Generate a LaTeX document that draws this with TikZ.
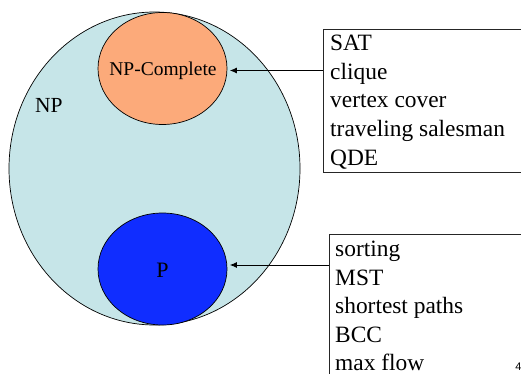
\documentclass[tikz,border=0pt]{standalone}
\usepackage{fontspec}
\setmainfont{Liberation Serif}
\newfontfamily\pagenumfont{Liberation Sans}
\usetikzlibrary{shapes.geometric,arrows.meta}

\definecolor{npfill}{RGB}{198,229,232}
\definecolor{npcfill}{RGB}{252,170,122}
\definecolor{pfill}{RGB}{16,45,255}

\tikzset{
  classset/.style={ellipse, draw=black, line width=0.7pt, inner sep=0pt},
  listbox/.style={draw=black!85, line width=0.9pt, inner sep=0pt, anchor=north west},
  item/.style={anchor=base west, inner sep=0pt, font=\fontsize{23.4}{28}\selectfont},
  setlabel/.style={inner sep=0pt},
  link/.style={draw=black, line width=0.9pt, -{Latex[length=7pt,width=6pt]}, shorten >=2.5pt},
}

\begin{document}
\begin{tikzpicture}[x=1pt,y=-1pt]
\useasboundingbox (0,0) rectangle (521,374);
\clip (0,0) rectangle (521,374);

% class NP with its two subclasses
\node[classset, fill=npfill, minimum width=291pt, minimum height=313pt] (np) at (154.5,168.5) {};
\node[classset, fill=npcfill, minimum width=129pt, minimum height=112pt] (npc) at (162.5,68.5) {};
\node[classset, fill=pfill, minimum width=129pt, minimum height=112pt] (p) at (162.5,269) {};

\node[setlabel, anchor=base west, font=\fontsize{21.5}{26}\selectfont] (nplabel) at (35,113) {NP};
\node[setlabel, anchor=base, font=\fontsize{19.5}{24}\selectfont] (npclabel) at (163,76) {NP-Complete};
\node[setlabel, anchor=base, font=\fontsize{22}{26}\selectfont] (plabel) at (162.5,277) {P};

% example problems
\node[listbox, minimum width=260pt, minimum height=143pt] (npcbox) at (323,29) {};
\foreach \t [count=\i] in {SAT, clique, vertex cover, traveling salesman, QDE}
  \node[item] (npcitem\i) at (330,{51+28.5*(\i-1)}) {\t};

\node[listbox, minimum width=250pt, minimum height=200pt] (pbox) at (328.5,234) {};
\foreach \t [count=\i] in {sorting, MST, shortest paths, BCC, max flow}
  \node[item] (pitem\i) at (335,{256.5+28.5*(\i-1)}) {\t};

\draw[link] (npcbox.west |- 0,70.5) -- (npc.east |- 0,70.5);
\draw[link] (pbox.west |- 0,265) -- (p.east |- 0,265);

% slide number
\node[anchor=base, inner sep=0pt, font=\pagenumfont\fontsize{11}{13}\selectfont] (pagenum) at (518.5,370) {4};
\end{tikzpicture}
\end{document}
